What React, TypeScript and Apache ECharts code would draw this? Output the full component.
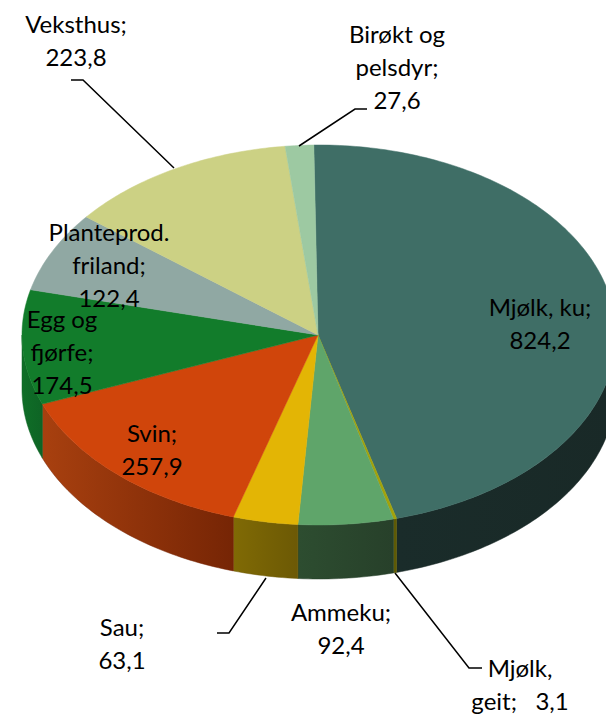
import React, { useEffect, useRef } from "react";
import * as echarts from "echarts";

const categories = ["Mjølk, ku", "Mjølk, geit", "Ammeku", "Sau", "Svin", "Egg og fjørfe", "Planteprod. friland", "Veksthus", "Birøkt og pelsdyr"];
const values = [824.2, 3.1, 92.4, 63.1, 257.9, 174.5, 122.4, 223.8, 27.6];
const labelTexts = ["Mjølk, ku;\n824,2", "Mjølk,\ngeit;   3,1", "Ammeku;\n92,4", "Sau;\n63,1", "Svin;\n257,9", "Egg og\nfjørfe;\n174,5", "Planteprod.\nfriland;\n122,4", "Veksthus;\n223,8", "Birøkt og\npelsdyr;\n27,6"];
const topColors = ["#3F6E66", "#A3A30A", "#5FA56A", "#E3B505", "#D0450B", "#127C2B", "#90A8A3", "#CCD184", "#9DC9A2"];
const sideLeft = ["#1A2C2A", "#5E5A05", "#2D4D30", "#806A05", "#A8400F", "#0F6E27", "#6A7C78", "#97A060", "#74957A"];
const sideRight = ["#192927", "#5E5A05", "#27402A", "#6C5905", "#762505", "#0E6425", "#6A7C78", "#97A060", "#74957A"];

const APEX_X = 318, CX = 319, CY = 335, RX = 297, RY = 190, DEPTH = 54, START = -1;
const total = values.reduce((a, b) => a + b, 0);
const toRad = (d: number) => (d * Math.PI) / 180;
const pt = (deg: number, dy = 0): number[] => [CX + RX * Math.sin(toRad(deg)), CY + dy - RY * Math.cos(toRad(deg))];
const sliceRange = (i: number): number[] => {
  const before = values.slice(0, i).reduce((a, b) => a + b, 0);
  return [START + (before / total) * 360, START + ((before + values[i]) / total) * 360];
};
const arc = (a: number, b: number, dy = 0): number[][] => {
  const n = Math.max(2, Math.ceil(b - a));
  const out: number[][] = [];
  for (let k = 0; k <= n; k++) out.push(pt(a + ((b - a) * k) / n, dy));
  return out;
};

const labelLayout = [
  { x: 540, y: 307 }, { x: 520, y: 668 }, { x: 341, y: 612 }, { x: 122, y: 627 }, { x: 152, y: 433 },
  { x: 62, y: 319 }, { x: 109, y: 232 }, { x: 76, y: 24 }, { x: 397, y: 34 },
];
const leaders = [
  [[71, 80], [83, 80], [174, 168]],
  [[299, 146], [355, 109], [367, 109]],
  [[266, 578], [229, 633], [217, 633]],
  [[395, 573], [469, 668], [482, 668]],
];

export default function App() {
  const ref = useRef<HTMLDivElement>(null);
  useEffect(() => {
    document.body.style.margin = "0";
    document.body.style.overflow = "hidden";
    const chart = echarts.init(ref.current!, undefined, { renderer: "svg" });
    const seriesData = categories.map((name, i) => ({ name, value: values[i] }));
    chart.setOption({
      animation: false,
      backgroundColor: "#FFFFFF",
      series: [
        {
          type: "custom",
          coordinateSystem: "none",
          z: 1,
          silent: true,
          data: seriesData,
          renderItem: (p: any) => {
            const i = p.dataIndex;
            const [a0, b0] = sliceRange(i);
            const a = Math.max(a0, 90), b = Math.min(b0, 270);
            if (b <= a) return { type: "group", children: [] };
            const points = [...arc(a, b, 0), ...arc(a, b, DEPTH).reverse()];
            return {
              type: "polygon",
              shape: { points },
              style: {
                fill: new echarts.graphic.LinearGradient(0, 0, 1, 0, [
                  { offset: 0, color: sideLeft[i] },
                  { offset: 1, color: sideRight[i] },
                ]),
                stroke: sideRight[i],
                lineWidth: 0.5,
              },
            };
          },
        },
        {
          type: "custom",
          coordinateSystem: "none",
          z: 2,
          silent: true,
          data: seriesData,
          renderItem: (p: any) => {
            const i = p.dataIndex;
            const [a, b] = sliceRange(i);
            return {
              type: "polygon",
              shape: { points: [[APEX_X, CY], ...arc(a, b)] },
              style: { fill: topColors[i], stroke: topColors[i], lineWidth: 0.5 },
            };
          },
        },
      ],
      graphic: [
        ...leaders.map((points) => ({
          type: "polyline",
          z: 5,
          shape: { points },
          style: { stroke: "#000000", lineWidth: 1.5, fill: "none" },
        })),
        ...labelTexts.map((text, i) => ({
          type: "text",
          z: 6,
          x: labelLayout[i].x,
          y: labelLayout[i].y - 17,
          style: {
            text,
            fill: "#000000",
            font: '24px Lato, "Open Sans", sans-serif',
            lineHeight: 33,
            align: "center",
            verticalAlign: "top",
          },
        })),
      ],
    });
    return () => chart.dispose();
  }, []);
  return <div ref={ref} style={{ width: 606, height: 715 }} />;
}
